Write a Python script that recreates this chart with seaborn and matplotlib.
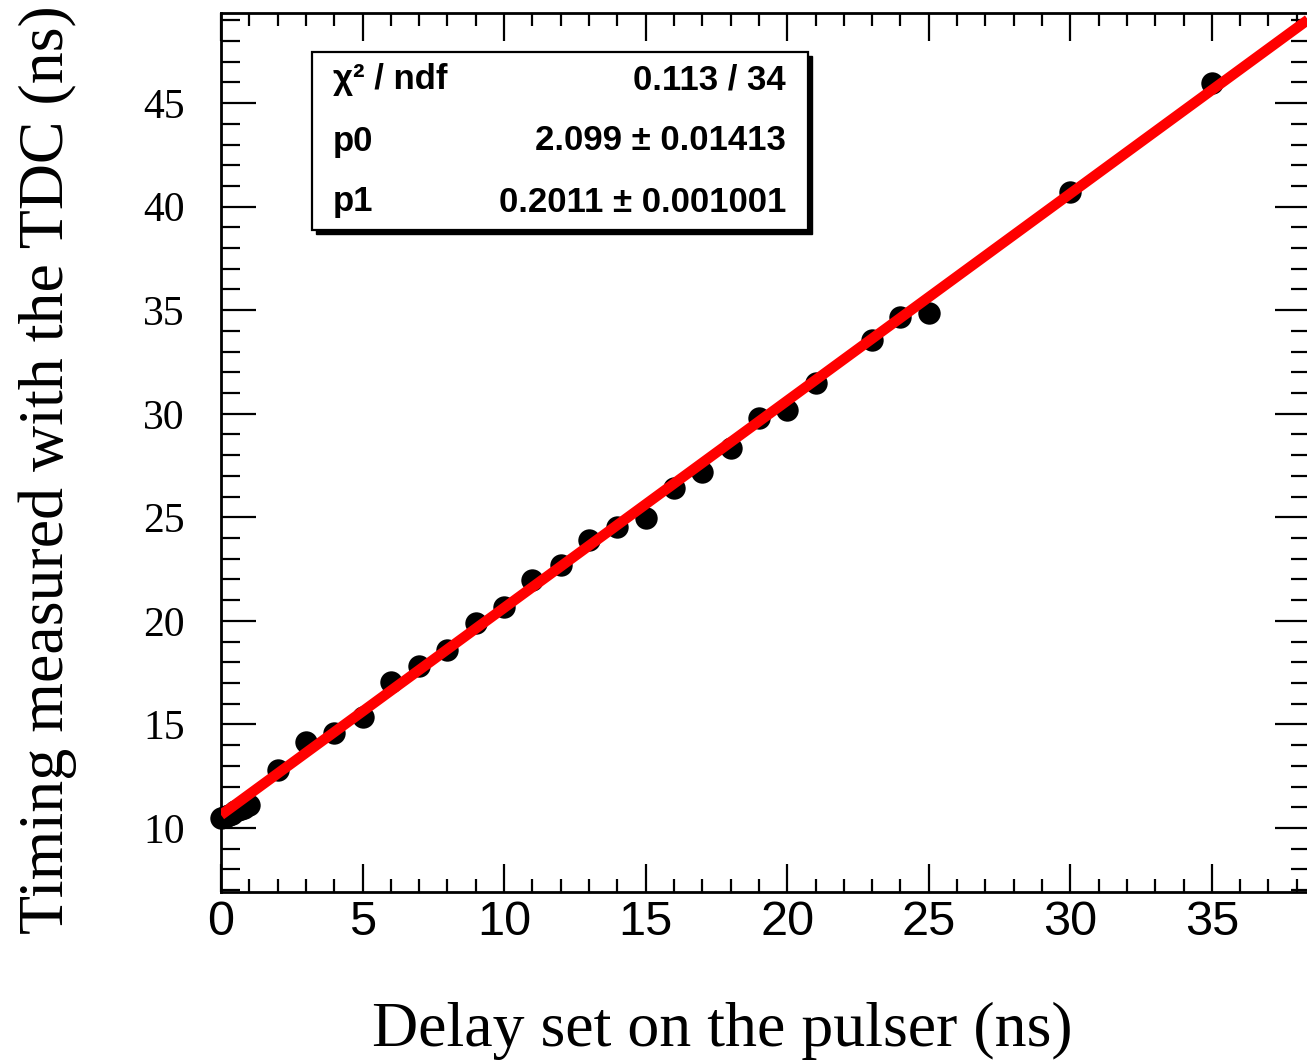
import matplotlib
matplotlib.use("Agg")
import matplotlib.pyplot as plt
from matplotlib.patches import Rectangle
from matplotlib.ticker import MultipleLocator
import seaborn as sns
import pandas as pd

# ---- data ----
delay_ns = [0.0, 0.1, 0.2, 0.3, 0.4, 0.5, 0.6, 0.7, 0.8, 0.9, 1.0,
            2, 3, 4, 5, 6, 7, 8, 9, 10, 11, 12, 13, 14, 15, 16, 17, 18, 19, 20, 21,
            23, 24, 25, 30, 35]
tdc_ns = [10.5, 10.55, 10.6, 10.65, 10.7, 10.8, 10.85, 10.9, 10.95, 11.05, 11.1,
          12.79, 14.15, 14.58, 15.35, 17.04, 17.82, 18.59, 19.89, 20.66, 21.97, 22.69,
          23.90, 24.53, 24.96, 26.41, 27.18, 28.34, 29.79, 30.18, 31.48,
          33.56, 34.67, 34.86, 40.70, 45.97]
fit_x = [0.0, 38.6]
fit_y = [10.63, 49.23]

x_ticks = [0, 5, 10, 15, 20, 25, 30, 35]
y_ticks = [10, 15, 20, 25, 30, 35, 40, 45]

stat_names = ["χ² / ndf", "p0", "p1"]
stat_values = ["0.113 / 34", "2.099 ± 0.01413", "0.2011 ± 0.001001"]

x_label = "Delay set on the pulser (ns)"
y_label = "Timing measured with the TDC (ns)"

df = pd.DataFrame({"delay": delay_ns, "tdc": tdc_ns})
fit_df = pd.DataFrame({"delay": fit_x, "tdc": fit_y})

sns.set_style("ticks")
plt.rcParams["font.family"] = ["Liberation Sans", "DejaVu Sans"]
plt.rcParams["text.color"] = "black"
plt.rcParams["axes.labelcolor"] = "black"
plt.rcParams["xtick.color"] = "black"
plt.rcParams["ytick.color"] = "black"
plt.rcParams["axes.edgecolor"] = "black"

W, H = 1307, 1060
fig = plt.figure(figsize=(W / 100, H / 100), dpi=100)
left_px, right_px, top_px, bottom_px = 221, 1310, 13, 892
ax = fig.add_axes([left_px / W, 1 - bottom_px / H, (right_px - left_px) / W, (bottom_px - top_px) / H])

sns.scatterplot(data=df, x="delay", y="tdc", ax=ax, color="black", s=260,
                marker="o", edgecolor="black", linewidth=0, zorder=3, clip_on=False)
sns.lineplot(data=fit_df, x="delay", y="tdc", ax=ax, color="#ff0000",
             linewidth=7.5, zorder=4, solid_capstyle="butt")

ax.set_xlim(0, (right_px - left_px) / 28.31)
ax.set_ylim(6.91, 49.35)

ax.set_xticks(x_ticks)
ax.set_yticks(y_ticks)
ax.xaxis.set_minor_locator(MultipleLocator(1))
ax.yaxis.set_minor_locator(MultipleLocator(1))

for sp in ax.spines.values():
    sp.set_linewidth(2.0)
    sp.set_color("black")

ax.tick_params(axis="x", which="major", direction="in", top=True, bottom=True,
               length=20, width=1.6, pad=6)
ax.tick_params(axis="x", which="minor", direction="in", top=True, bottom=True,
               length=9.5, width=1.6)
ax.tick_params(axis="y", which="major", direction="in", left=True, right=True,
               length=25, width=1.6, pad=26)
ax.tick_params(axis="y", which="minor", direction="in", left=True, right=True,
               length=14, width=1.6)

ax.set_xticklabels([str(v) for v in x_ticks],
                   fontfamily=["Liberation Sans Narrow", "Liberation Sans"], fontsize=35)
ax.set_yticklabels([str(v) for v in y_ticks],
                   fontfamily=["Liberation Serif", "DejaVu Serif"], fontsize=30)

ax.set_xlabel(x_label, fontfamily=["Liberation Serif", "DejaVu Serif"], fontsize=46)
ax.set_ylabel(y_label, fontfamily=["Liberation Serif", "DejaVu Serif"], fontsize=46)
ax.xaxis.set_label_coords((722 - left_px) / (right_px - left_px), (bottom_px - 1002) / (bottom_px - top_px))
ax.yaxis.set_label_coords((77 - left_px) / (right_px - left_px), (bottom_px - 470) / (bottom_px - top_px))

# ---- statistics box ----
aw = right_px - left_px
ah = bottom_px - top_px
bx0, bx1, by0, by1 = 312, 808, 52, 230
sh = 4
ax.add_patch(Rectangle(((bx0 + sh - left_px) / aw, (bottom_px - by1 - sh) / ah),
                       (bx1 - bx0) / aw, (by1 - by0) / ah, transform=ax.transAxes,
                       facecolor="black", edgecolor="black", zorder=5))
ax.add_patch(Rectangle(((bx0 - left_px) / aw, (bottom_px - by1) / ah),
                       (bx1 - bx0) / aw, (by1 - by0) / ah, transform=ax.transAxes,
                       facecolor="white", edgecolor="black", linewidth=1.6, zorder=6))
row_y = [80, 141, 202]
for name, val, ry in zip(stat_names, stat_values, row_y):
    ax.text((333 - left_px) / aw, (bottom_px - ry) / ah, name, transform=ax.transAxes,
            ha="left", va="center", fontsize=25, fontweight="bold", zorder=7)
    ax.text((786 - left_px) / aw, (bottom_px - ry) / ah, val, transform=ax.transAxes,
            ha="right", va="center", fontsize=25, fontweight="bold", zorder=7)

fig.savefig("out.png", dpi=100, facecolor="white")
